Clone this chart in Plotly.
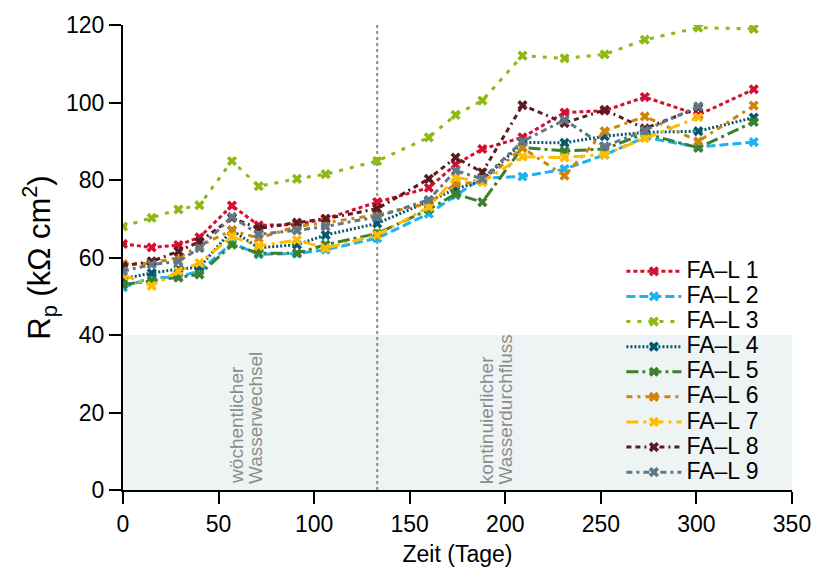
import plotly.graph_objects as go

# Measurement days
days = [0, 15, 29, 40, 57, 71, 91, 106, 133, 160, 174, 188, 209, 231, 252, 273, 301, 330]

# Polarisation resistance Rp (kΩ cm²) per sample
fa_l1 = [63.5, 62.6, 63.2, 65.2, 73.4, 68.3, 68.5, 70.0, 74.3, 78.0, 84.0, 88.0, 91.0, 97.4, 97.9, 101.4, 96.8, 103.4]
fa_l2 = [52.3, 54.8, 55.0, 56.5, 63.7, 60.8, 61.0, 62.0, 65.0, 71.3, 76.0, 80.5, 80.9, 82.8, 86.5, 91.0, 88.5, 89.8]
fa_l3 = [68.0, 70.2, 72.4, 73.5, 84.9, 78.4, 80.3, 81.5, 84.9, 91.0, 96.8, 100.5, 112.1, 111.4, 112.4, 116.2, 119.3, 119.0]
fa_l4 = [54.5, 56.0, 57.0, 57.5, 67.0, 62.5, 63.3, 65.8, 68.8, 74.5, 77.7, 79.8, 89.7, 89.6, 91.3, 92.3, 92.6, 96.1]
fa_l5 = [53.0, 54.0, 54.8, 55.6, 63.3, 61.1, 61.1, 63.3, 66.2, 72.4, 76.4, 74.3, 88.4, 87.5, 88.0, 92.0, 88.3, 95.0]
fa_l6 = [58.3, 58.5, 60.0, 63.0, 67.0, 65.0, 68.0, 69.0, 71.0, 74.0, 79.0, 79.5, 88.3, 81.1, 92.6, 96.4, 90.0, 99.2]
fa_l7 = [55.5, 52.7, 56.5, 58.6, 65.4, 63.0, 64.5, 62.4, 65.8, 73.0, 80.7, 79.5, 86.0, 85.8, 86.6, 90.8, 96.2]
fa_l8 = [57.8, 59.0, 61.6, 64.1, 70.2, 67.5, 69.0, 70.0, 72.6, 80.3, 85.8, 82.0, 99.3, 94.7, 98.1, 93.3, 98.6]
fa_l9 = [56.5, 58.2, 59.0, 62.4, 70.5, 66.0, 67.0, 68.0, 70.5, 74.9, 82.4, 80.3, 90.0, 95.5, 88.7, 92.8, 99.0]

names = ["FA\u2013L 1", "FA\u2013L 2", "FA\u2013L 3", "FA\u2013L 4", "FA\u2013L 5",
         "FA\u2013L 6", "FA\u2013L 7", "FA\u2013L 8", "FA\u2013L 9"]
series = [fa_l1, fa_l2, fa_l3, fa_l4, fa_l5, fa_l6, fa_l7, fa_l8, fa_l9]
colors = ["#d3102f", "#1eb2ee", "#8fb814", "#04586f", "#3c7f2d",
          "#d2830a", "#ffbd00", "#5b1b20", "#5f7788"]
dashes = ["4px,3px", "9px,4px", "4px,7px", "2px,2px", "12px,4px,3px,4px",
          "6px,5px,3px,5px", "12px,5px,3px,5px", "5px,4px,5px,4px,2px,4px", "6px,4px,3px,4px"]

FONT = "Liberation Sans, Arial, sans-serif"

fig = go.Figure()

# Shaded band below 40 kΩ cm²
fig.add_shape(type="rect", xref="x", yref="y", x0=0, x1=350, y0=0, y1=40,
              fillcolor="#eef4f4", line_width=0, layer="below")

# Change of water regime
fig.add_shape(type="line", xref="x", yref="y", x0=133, x1=133, y0=0, y1=120,
              line=dict(color="#8a8a8a", width=2, dash="dot"), layer="below")

for name, vals, col, dsh in zip(names, series, colors, dashes):
    fig.add_trace(go.Scatter(
        x=days[:len(vals)], y=vals,
        name='<span style="font-size:23px">' + name + '</span>',
        mode="lines+markers",
        line=dict(color=col, width=3, dash=dsh),
        marker=dict(symbol="x", size=9, color=col, line=dict(width=0)),
    ))

# Regime labels, one annotation per rotated line
label_font = dict(family=FONT, size=19, color="#8c8c8c")
for xpos, txt in [(59, "wöchentlicher"), (69, "Wasserwechsel"),
                  (190, "kontinuierlicher"), (200, "Wasserdurchfluss")]:
    fig.add_annotation(x=xpos, y=1.0, xref="x", yref="y", text=txt,
                       textangle=-90, showarrow=False, xanchor="center", yanchor="bottom",
                       font=label_font)

axis_font = dict(family=FONT, size=23, color="black")
fig.update_layout(
    width=823, height=581,
    margin=dict(l=123, r=29, t=19, b=91),
    paper_bgcolor="white", plot_bgcolor="white",
    font=dict(family=FONT, color="black"),
    showlegend=True,
    legend=dict(x=0.745, y=0.508, xanchor="left", yanchor="top",
                bgcolor="rgba(0,0,0,0)", font=dict(size=17),
                itemwidth=55, tracegroupgap=0),
    xaxis=dict(range=[0, 350], tickvals=[0, 50, 100, 150, 200, 250, 300, 350],
               showline=True, linecolor="black", linewidth=2, ticks="outside",
               ticklen=12, tickwidth=2, tickcolor="black", showgrid=False, zeroline=False,
               tickfont=axis_font, title=dict(text="Zeit (Tage)", font=axis_font, standoff=10)),
    yaxis=dict(range=[0, 120], tickvals=[0, 20, 40, 60, 80, 100, 120],
               showline=True, linecolor="black", linewidth=2, ticks="outside",
               ticklen=12, tickwidth=2, tickcolor="black", showgrid=False, zeroline=False,
               tickfont=axis_font,
               title=dict(text="R<sub>p</sub> (kΩ cm<sup>2</sup>)\u00a0\u00a0\u00a0\u00a0",
                          font=dict(family=FONT, size=31), standoff=6)),
)

fig.write_html("out.html")
